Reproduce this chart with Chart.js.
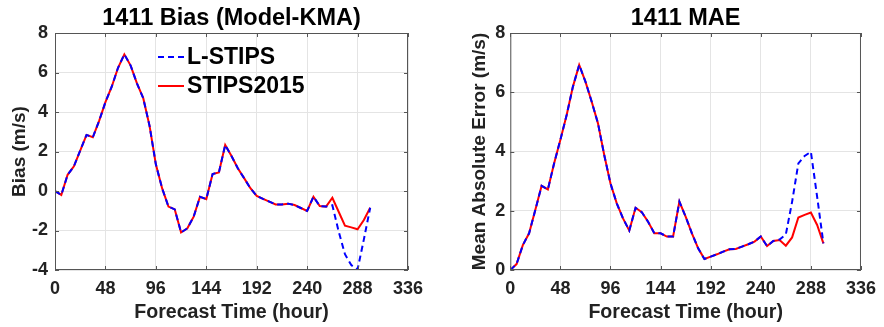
<!DOCTYPE html>
<html>
<head>
<meta charset="utf-8">
<script src="https://cdn.jsdelivr.net/npm/chart.js@4.4.1/dist/chart.umd.min.js"></script>
<style>
  html, body { margin: 0; padding: 0; background: #fff; }
  #wrap { position: relative; width: 884px; height: 327px; }
  canvas { position: absolute; top: 0; }
</style>
</head>
<body>
<div id="wrap">
  <canvas id="biasChart" width="442" height="327" style="left:0"></canvas>
  <canvas id="maeChart" width="442" height="327" style="left:442px"></canvas>
</div>
<script>
// forecast lead times (hours)
const hours = [
  0, 6, 12, 18, 24, 30, 36, 42, 48, 54, 60, 66, 72, 78, 84, 90, 96,
  102, 108, 114, 120, 126, 132, 138, 144, 150, 156, 162, 168, 174, 180,
  186, 192, 198, 204, 210, 216, 222, 228, 234, 240, 246, 252, 258, 264,
  270, 276, 282, 288, 294, 300
];

// bias (model - KMA), m/s
const biasLSTIPS = [
  0, -0.2, 0.82, 1.25, 2.05, 2.84, 2.72, 3.55, 4.5, 5.28, 6.24, 6.92, 6.35, 5.45, 4.7, 3.3, 1.35,
  0.13, -0.79, -0.93, -2.1, -1.89, -1.3, -0.29, -0.41, 0.86, 0.94, 2.33, 1.77, 1.15, 0.65,
  0.14, -0.25, -0.4, -0.54, -0.68, -0.68, -0.64, -0.71, -0.86, -1.01, -0.29, -0.76, -0.79, -0.72,
  -2.05, -3.2, -3.75, -3.97, -2.45, -0.85
];
const biasSTIPS2015 = [
  0, -0.2, 0.82, 1.25, 2.05, 2.84, 2.72, 3.55, 4.5, 5.28, 6.24, 6.92, 6.35, 5.45, 4.7, 3.3, 1.35,
  0.13, -0.79, -0.93, -2.1, -1.89, -1.3, -0.29, -0.41, 0.86, 0.94, 2.33, 1.77, 1.15, 0.65,
  0.14, -0.25, -0.4, -0.54, -0.68, -0.68, -0.64, -0.71, -0.86, -1.01, -0.29, -0.76, -0.79, -0.34,
  -1.05, -1.76, -1.84, -1.94, -1.47, -0.85
];

// mean absolute error, m/s
const maeLSTIPS = [
  0, 0.2, 0.84, 1.24, 2.03, 2.84, 2.72, 3.6, 4.4, 5.23, 6.19, 6.92, 6.36, 5.68, 4.95, 3.88, 2.92,
  2.25, 1.74, 1.33, 2.1, 1.95, 1.63, 1.24, 1.24, 1.13, 1.13, 2.31, 1.8, 1.24, 0.73,
  0.37, 0.45, 0.53, 0.62, 0.7, 0.71, 0.79, 0.87, 0.96, 1.13, 0.81, 0.98, 1.03, 1.2,
  2.3, 3.6, 3.85, 3.99, 2.47, 0.9
];
const maeSTIPS2015 = [
  0, 0.2, 0.84, 1.24, 2.03, 2.84, 2.72, 3.6, 4.4, 5.23, 6.19, 6.92, 6.36, 5.68, 4.95, 3.88, 2.92,
  2.25, 1.74, 1.33, 2.1, 1.95, 1.63, 1.24, 1.24, 1.13, 1.13, 2.31, 1.8, 1.24, 0.73,
  0.37, 0.45, 0.53, 0.62, 0.7, 0.71, 0.79, 0.87, 0.96, 1.13, 0.81, 0.98, 1.01, 0.82,
  1.1, 1.77, 1.86, 1.94, 1.52, 0.9
];

const xTicks = [0, 48, 96, 144, 192, 240, 288, 336];
const biasTicks = [-4, -2, 0, 2, 4, 6, 8];
const maeTicks = [0, 2, 4, 6, 8];

const FONT = "'Liberation Sans', Arial, Helvetica, sans-serif";
const TEXT = "#222";
const GRID = "#e4e4e4";
const BOX = "#555";

function points(vals) {
    return hours.map((h, i) => ({ x: h, y: vals[i] }));
}

// axes box with inward tick marks on all four sides
const boxPlugin = {
    id: "axesBox",
    afterDatasetsDraw(chart) {
        const { ctx, chartArea: a, scales } = chart;
        ctx.save();
        ctx.strokeStyle = BOX;
        ctx.lineWidth = 1;
        ctx.strokeRect(a.left + 0.5, a.top + 0.5, a.right - a.left - 1, a.bottom - a.top - 1);
        ctx.beginPath();
        const len = 4;
        scales.x.ticks.forEach((t) => {
            const px = Math.round(scales.x.getPixelForValue(t.value)) + 0.5;
            ctx.moveTo(px, a.bottom);
            ctx.lineTo(px, a.bottom - len);
            ctx.moveTo(px, a.top);
            ctx.lineTo(px, a.top + len);
        });
        scales.y.ticks.forEach((t) => {
            const py = Math.round(scales.y.getPixelForValue(t.value)) + 0.5;
            ctx.moveTo(a.left, py);
            ctx.lineTo(a.left + len, py);
            ctx.moveTo(a.right, py);
            ctx.lineTo(a.right - len, py);
        });
        ctx.stroke();
        ctx.restore();
    },
};

// legend inside the bias panel, no frame
const legendPlugin = {
    id: "insideLegend",
    afterDraw(chart, args, opts) {
        if (!opts.show) return;
        const { ctx } = chart;
        ctx.save();
        ctx.font = "bold 23px " + FONT;
        ctx.textBaseline = "middle";
        ctx.fillStyle = "#000";
        chart.data.datasets.forEach((ds, i) => {
            const y = 57 + i * 29;
            ctx.beginPath();
            ctx.strokeStyle = ds.borderColor;
            ctx.lineWidth = ds.borderWidth;
            ctx.setLineDash(ds.borderDash || []);
            ctx.moveTo(158, y);
            ctx.lineTo(184, y);
            ctx.stroke();
            ctx.setLineDash([]);
            ctx.fillText(ds.label, 187, y + 1);
        });
        ctx.restore();
    },
};

function buildChart(id, opts) {
    const ctx = document.getElementById(id);
    return new Chart(ctx, {
        type: "line",
        data: {
            datasets: [
                {
                    label: "L-STIPS",
                    data: points(opts.blue),
                    borderColor: "#0000ff",
                    borderWidth: 2,
                    borderDash: [6, 4],
                    pointRadius: 0,
                    tension: 0,
                },
                {
                    label: "STIPS2015",
                    data: points(opts.red),
                    borderColor: "#ff0000",
                    borderWidth: 2,
                    pointRadius: 0,
                    tension: 0,
                },
            ],
        },
        options: {
            responsive: false,
            animation: false,
            layout: { padding: { left: 0, right: opts.padRight, top: 0, bottom: 0 } },
            plugins: {
                legend: { display: false },
                tooltip: { enabled: false },
                title: {
                    display: true,
                    fullSize: false,
                    text: opts.title,
                    color: "#000",
                    font: { family: FONT, size: 23.5, weight: "bold", lineHeight: 1.2 },
                    padding: { top: 4, bottom: 0.8 },
                },
                insideLegend: { show: opts.legend },
            },
            scales: {
                x: {
                    type: "linear",
                    min: 0,
                    max: 336,
                    afterBuildTicks: (s) => { s.ticks = xTicks.map((v) => ({ value: v })); },
                    afterFit: (s) => { s.height = 57; },
                    grid: { color: GRID, drawTicks: false },
                    border: { display: false },
                    ticks: {
                        color: TEXT,
                        padding: 8,
                        maxRotation: 0,
                        font: { family: FONT, size: 18, weight: "bold" },
                    },
                    title: {
                        display: true,
                        text: "Forecast Time (hour)",
                        color: TEXT,
                        font: { family: FONT, size: 19.6, weight: "bold", lineHeight: 1.2 },
                        padding: { top: 0, bottom: 2.2 },
                    },
                },
                y: {
                    min: opts.yMin,
                    max: 8,
                    afterBuildTicks: (s) => { s.ticks = opts.yTicks.map((v) => ({ value: v })); },
                    afterFit: (s) => { s.width = opts.yWidth; },
                    grid: { color: GRID, drawTicks: false },
                    border: { display: false },
                    ticks: {
                        color: TEXT,
                        padding: opts.tickPad,
                        font: { family: FONT, size: 18, weight: "bold" },
                    },
                    title: {
                        display: true,
                        text: opts.yTitle,
                        color: TEXT,
                        font: { family: FONT, size: 19, weight: "bold", lineHeight: 1.2 },
                        padding: { top: opts.yTitlePad, bottom: 0 },
                    },
                },
            },
        },
        plugins: [boxPlugin, legendPlugin],
    });
}

buildChart("biasChart", {
    title: "1411 Bias (Model-KMA)",
    yTitle: "Bias (m/s)",
    blue: biasLSTIPS,
    red: biasSTIPS2015,
    yMin: -4,
    yTicks: biasTicks,
    yWidth: 55,
    padRight: 34,
    tickPad: 7,
    yTitlePad: 8.6,
    legend: true,
});

buildChart("maeChart", {
    title: "1411 MAE",
    yTitle: "Mean Absolute Error (m/s)",
    blue: maeLSTIPS,
    red: maeSTIPS2015,
    yMin: 0,
    yTicks: maeTicks,
    yWidth: 68.3,
    padRight: 20.3,
    tickPad: 5,
    yTitlePad: 26.6,
    legend: false,
});
</script>
</body>
</html>
